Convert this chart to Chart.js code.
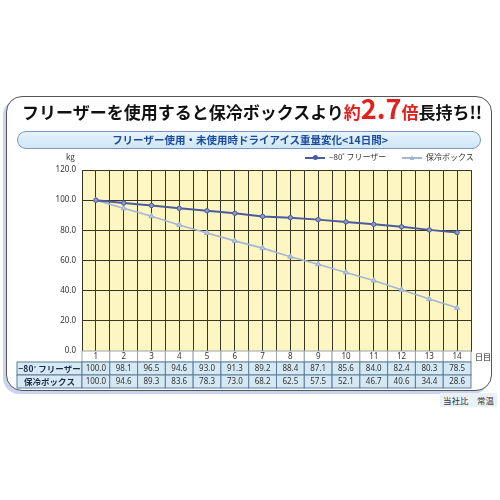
<!DOCTYPE html>
<html lang="ja">
<head>
  <meta charset="UTF-8">
  <title>ドライアイス重量変化</title>
  <script src="https://cdn.jsdelivr.net/npm/chart.js"></script>
  <style>
    body { margin: 0; width: 500px; height: 500px; background: #fff; position: relative; overflow: hidden;
           font-family: "Noto Sans CJK JP", "Noto Sans", sans-serif; }
    .panel { position: absolute; left: 6px; top: 96px; width: 484px; height: 293px;
             border: 1.5px solid #555; border-radius: 16px; background: #fff;
             box-shadow: -3px 3px 0 #c9d5ee; }
    #chart { position: absolute; left: 0; top: 0; }
    .title { position: absolute; left: 22px; top: 99px; font-size: 17px; font-weight: bold; color: #111;
             white-space: nowrap; letter-spacing: 0; }
    .title .red { color: #e3201e; }
    .title .big { font-size: 27px; line-height: 17px; }
    .pill { position: absolute; left: 17px; top: 131px; width: 462px; height: 16px;
            border: 1px solid #7b97bd; border-radius: 9px;
            background: linear-gradient(#e6f3fc, #cfe6f7); }
    .subtitle { position: absolute; left: 0; top: 131px; width: 500px; text-align: center;
                font-size: 10.5px; font-weight: bold; color: #1d4b9b; line-height: 17px; white-space: nowrap; }
    .kg { position: absolute; left: 66px; top: 151px; font-size: 8px; color: #333; }
    .legend { position: absolute; top: 151px; font-size: 8px; color: #333; white-space: nowrap; }
    .mk { display: inline-block; width: 20px; height: 8px; position: relative; vertical-align: middle; margin-right: 4px; }
    .mk::before { content: ""; position: absolute; left: 0; right: 0; top: 3.5px; height: 1.5px; background: var(--c); }
    .mk::after { content: ""; position: absolute; left: 7.5px; top: 1.5px; width: 5px; height: 5px; border-radius: 50%;
                 background: var(--c); }
    .mk.tri::after { border-radius: 0; clip-path: polygon(50% 0, 100% 100%, 0 100%); }
    .note { position: absolute; left: 440px; top: 393px; padding: 1px 3px; font-size: 8.5px; color: #333;
            background: #e9f1fa; white-space: nowrap; }
  </style>
</head>
<body>
  <div class="panel"></div>
  <canvas id="chart" width="500" height="500"></canvas>
  <div class="title">フリーザーを使用すると保冷ボックスより<span class="red">約<span class="big">2.7</span>倍</span>長持ち!!</div>
  <div class="pill"></div>
  <div class="subtitle">フリーザー使用・未使用時ドライアイス重量変化&lt;14日間&gt;</div>
  <div class="kg">kg</div>
  <div class="legend" style="left:305px"><span class="mk" style="--c:#4b5c9c"></span>−80˚ フリーザー</div>
  <div class="legend" style="left:402px"><span class="mk tri" style="--c:#a3b7d4"></span>保冷ボックス</div>
  <div class="note">当社比　常温</div>

  <script>
    // data
    const days = [1, 2, 3, 4, 5, 6, 7, 8, 9, 10, 11, 12, 13, 14];
    const freezer = [100.0, 98.1, 96.5, 94.6, 93.0, 91.3, 89.2, 88.4, 87.1, 85.6, 84.0, 82.4, 80.3, 78.5];
    const coolerBox = [100.0, 94.6, 89.3, 83.6, 78.3, 73.0, 68.2, 62.5, 57.5, 52.1, 46.7, 40.6, 34.4, 28.6];
    const seriesNames = ['−80˚ フリーザー', '保冷ボックス'];
    const dayUnit = '日目';
    const yMax = 120;
    const yStep = 20;

    const gridColor = '#3a3626';

    // yellow plot background
    const plotBg = {
      id: 'plotBg',
      beforeDraw(chart) {
        const { ctx, chartArea: a } = chart;
        ctx.save();
        ctx.fillStyle = '#fdf6c2';
        ctx.fillRect(a.left, a.top, a.right - a.left, a.bottom - a.top);
        ctx.restore();
      }
    };

    // data table under the plot, columns follow the x scale
    const dataTable = {
      id: 'dataTable',
      afterDraw(chart) {
        const { ctx, chartArea: a, scales: { x } } = chart;
        const rows = [
          { label: null, values: days.map(String), fill: '#ffffff', line: '#9aa3a8', h: 11 },
          { label: seriesNames[0], values: freezer.map(v => v.toFixed(1)), fill: '#d5e9f5', line: '#5e7d99', h: 13 },
          { label: seriesNames[1], values: coolerBox.map(v => v.toFixed(1)), fill: '#d5e9f5', line: '#5e7d99', h: 13 }
        ];
        ctx.save();
        ctx.textAlign = 'center';
        ctx.textBaseline = 'middle';
        let y = a.bottom;
        rows.forEach((row, r) => {
          if (row.label) {
            ctx.fillStyle = row.fill;
            ctx.fillRect(17, y, a.left - 17, row.h);
            ctx.strokeStyle = row.line;
            ctx.lineWidth = 1;
            ctx.strokeRect(17, y, a.left - 17, row.h);
            ctx.fillStyle = '#1f2a44';
            ctx.font = 'bold 8.5px "Noto Sans CJK JP"';
            ctx.fillText(row.label, (17 + a.left) / 2, y + row.h / 2 + 0.5);
          }
          days.forEach((d, i) => {
            const l = x.getPixelForValue(d - 0.5);
            const rr = x.getPixelForValue(d + 0.5);
            ctx.fillStyle = row.fill;
            ctx.fillRect(l, y, rr - l, row.h);
            ctx.strokeStyle = row.line;
            ctx.lineWidth = 1;
            ctx.strokeRect(l, y, rr - l, row.h);
            ctx.fillStyle = '#333';
            ctx.font = '8px "Noto Sans"';
            ctx.fillText(row.values[i], (l + rr) / 2, y + row.h / 2 + 0.5);
          });
          if (r === 0) {
            ctx.fillStyle = '#222';
            ctx.font = '8px "Noto Sans CJK JP"';
            ctx.textAlign = 'left';
            ctx.fillText(dayUnit, a.right + 4, y + row.h / 2 + 0.5);
            ctx.textAlign = 'center';
          }
          y += row.h;
        });
        ctx.restore();
      }
    };

    new Chart(document.getElementById('chart'), {
      type: 'line',
      data: {
        datasets: [
          {
            label: seriesNames[0],
            data: days.map((d, i) => ({ x: d, y: freezer[i] })),
            borderColor: '#4b5c9c',
            borderWidth: 2,
            pointStyle: 'circle',
            pointRadius: 2.2,
            pointBackgroundColor: '#8c9ac8',
            pointBorderColor: '#4b5c9c',
            pointBorderWidth: 1
          },
          {
            label: seriesNames[1],
            data: days.map((d, i) => ({ x: d, y: coolerBox[i] })),
            borderColor: '#a3b7d4',
            borderWidth: 1.6,
            pointStyle: 'triangle',
            pointRadius: 3,
            pointBackgroundColor: '#b8c8e0',
            pointBorderColor: '#98aed0',
            pointBorderWidth: 1
          }
        ]
      },
      options: {
        responsive: false,
        animation: false,
        layout: { padding: { left: 52, right: 29, top: 170, bottom: 149 } },
        plugins: { legend: { display: false }, tooltip: { enabled: false } },
        scales: {
          x: {
            type: 'linear',
            min: 0.5,
            max: days.length + 0.5,
            ticks: { display: false, stepSize: 0.5 },
            grid: { color: gridColor, lineWidth: 1, drawTicks: false },
            border: { color: gridColor },
            afterFit(scale) { scale.height = 0; }
          },
          y: {
            min: 0,
            max: yMax,
            ticks: {
              stepSize: yStep,
              padding: 6,
              color: '#333',
              font: { family: 'Noto Sans', size: 8 },
              callback: v => v.toFixed(1)
            },
            grid: { color: gridColor, lineWidth: 1, drawTicks: false },
            border: { color: gridColor },
            afterFit(scale) { scale.width = 30; }
          }
        }
      },
      plugins: [plotBg, dataTable]
    });
  </script>
</body>
</html>
